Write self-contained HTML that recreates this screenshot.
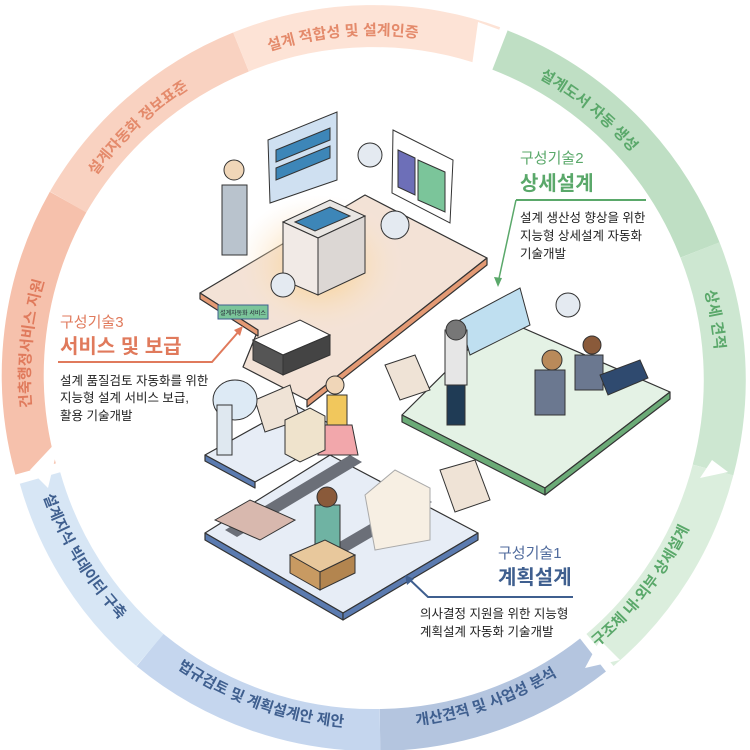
<!DOCTYPE html>
<html><head><meta charset="utf-8"><style>
html,body{margin:0;padding:0;background:#fff;}
svg{display:block;font-family:"Liberation Sans","Noto Sans CJK KR",sans-serif;}
</style></head><body>
<svg width="750" height="750" viewBox="0 0 750 750" xmlns="http://www.w3.org/2000/svg">
<defs>
<path id="cw" d="M373,721 A343,343 0 1 1 373,35 A343,343 0 1 1 373,721"/>
<path id="ccw" d="M373,28 A350,350 0 1 0 373,728 A350,350 0 1 0 373,28"/>
<radialGradient id="glow" cx="0.5" cy="0.5" r="0.5"><stop offset="0" stop-color="#f9c978"/><stop offset="1" stop-color="#fbe9d8" stop-opacity="0"/></radialGradient>
</defs>
<g fill="none" stroke-width="42">
<path d="M35.6,469 A352,352 0 0 1 68.1,202" stroke="#f6c1ac"/>
<path d="M68.1,202 A352,352 0 0 1 241,52" stroke="#f9d2c1"/>
<path d="M241,52 A352,352 0 0 1 493,47" stroke="#fde3d6"/>
<path d="M500,50 A352,352 0 0 1 700,250" stroke="#bfdfc4"/>
<path d="M700,250 A352,352 0 0 1 713,470" stroke="#cde7d1"/>
<path d="M713,470 A352,352 0 0 1 600,650" stroke="#dbeedd"/>
<path d="M593,655 A352,352 0 0 1 380,730" stroke="#b4c5df"/>
<path d="M380,730 A352,352 0 0 1 150,650" stroke="#c5d6ee"/>
<path d="M150,650 A352,352 0 0 1 40,478" stroke="#d7e6f5"/>
</g>
<g fill="#fff">
<polygon points="478,22 500,30 486,70 508,78 470,80"/>
<polygon points="712,460 728,472 700,478"/>
<polygon points="600,640 620,660 585,668"/>
<polygon points="30,470 60,438 48,488"/>
</g>
<g font-size="15" font-weight="bold">
<text fill="#e48a6b"><textPath href="#cw" startOffset="48.6%" text-anchor="middle">설계 적합성 및 설계인증</textPath></text>
<text fill="#e48a6b"><textPath href="#cw" startOffset="38%" text-anchor="middle">설계자동화 정보표준</textPath></text>
<text fill="#e07a5c"><textPath href="#cw" startOffset="26.6%" text-anchor="middle">건축행정서비스 지원</textPath></text>
<text fill="#5aa86a"><textPath href="#cw" startOffset="60.8%" text-anchor="middle">설계도서 자동 생성</textPath></text>
<text fill="#5aa86a"><textPath href="#cw" startOffset="72.3%" text-anchor="middle">상세 견적</textPath></text>
<text fill="#5aa86a"><textPath href="#ccw" startOffset="64.5%" text-anchor="middle">구조체 내·외부 상세설계</textPath></text>
<text fill="#3f5f8f"><textPath href="#ccw" startOffset="55.4%" text-anchor="middle">개산견적 및 사업성 분석</textPath></text>
<text fill="#3f5f8f"><textPath href="#ccw" startOffset="44.6%" text-anchor="middle">법규검토 및 계획설계안 제안</textPath></text>
<text fill="#3f5f8f"><textPath href="#ccw" startOffset="33.8%" text-anchor="middle">설계지식 빅데이터 구축</textPath></text>
</g>

<g stroke="#333" stroke-width="1.2" stroke-linejoin="round">
<polygon points="205,533 330,455 478,533 343,613" fill="#e7edf6"/>
<polygon points="205,533 343,613 343,620 205,540" fill="#5b7bb0"/>
<polygon points="343,613 478,533 478,540 343,620" fill="#5b7bb0"/>
<polygon points="205,455 295,405 345,432 255,482" fill="#e7edf6"/>
<polygon points="205,455 255,482 255,488 205,461" fill="#5b7bb0"/>
<polygon points="402,415 500,318 670,392 545,488" fill="#e4f2e5"/>
<polygon points="402,415 545,488 545,495 402,422" fill="#6bab77"/>
<polygon points="545,488 670,392 670,399 545,495" fill="#6bab77"/>
<polygon points="200,293 365,195 487,258 307,400 243,367 258,330" fill="#f3e2d6"/>
<polygon points="200,293 258,330 258,336 200,299" fill="#e49a74"/>
<polygon points="307,400 487,258 487,265 307,407" fill="#e49a74"/>
</g>
<ellipse cx="320" cy="265" rx="85" ry="70" fill="url(#glow)"/>
<polygon points="225,530 350,455 362,462 237,537" fill="#6b6f78"/>
<polygon points="300,565 420,495 432,502 312,572" fill="#6b6f78"/>
<g stroke="#333" stroke-width="1">
<polygon points="268,140 337,112 337,180 270,203" fill="#cfe0f1"/>
<polygon points="276,150 330,128 330,140 276,162" fill="#3d86b8"/>
<polygon points="276,168 330,146 330,158 276,180" fill="#3d86b8"/>
<polygon points="393,130 453,160 450,223 392,193" fill="#fff"/>
<polygon points="418,160 445,172 445,212 418,200" fill="#7bc59a"/>
<polygon points="398,150 415,158 415,195 398,187" fill="#6d6fb8"/>
<polygon points="283,222 330,200 365,216 318,238" fill="#e9e6e3"/>
<polygon points="283,222 318,238 318,295 283,280" fill="#f1eae6"/>
<polygon points="318,238 365,216 365,273 318,295" fill="#dcd7d4"/>
<polygon points="295,222 330,207 350,216 315,231" fill="#3d86b8"/>
<rect x="222" y="185" width="25" height="70" fill="#b9c3cd"/>
<circle cx="234" cy="170" r="10" fill="#f0d6b8"/>
<circle cx="370" cy="155" r="12" fill="#e4eaf1"/>
<circle cx="395" cy="225" r="14" fill="#e4eaf1"/>
<circle cx="283" cy="285" r="12" fill="#e4eaf1"/>
<polygon points="253,340 300,320 330,335 283,355" fill="#fff"/>
<polygon points="253,340 283,355 283,375 253,360" fill="#555"/>
<polygon points="283,355 330,335 330,355 283,375" fill="#444"/>
<polygon points="460,320 520,288 530,325 470,355" fill="#bfdff0"/>
<rect x="445" y="330" width="22" height="55" fill="#e6e6e6"/>
<rect x="447" y="385" width="18" height="40" fill="#1f3b55"/>
<circle cx="456" cy="330" r="10" fill="#777"/>
<rect x="535" y="370" width="30" height="45" fill="#6b7890"/>
<circle cx="552" cy="360" r="10" fill="#b98a5a"/>
<rect x="575" y="355" width="28" height="35" fill="#6b7890"/>
<circle cx="592" cy="345" r="9" fill="#8a5a3a"/>
<polygon points="600,375 640,360 648,378 608,395" fill="#2f4a6f"/>
<circle cx="568" cy="305" r="12" fill="#e4eaf1"/>
<polygon points="385,365 415,355 430,390 400,400" fill="#efe3d6"/>
<polygon points="255,400 290,385 300,420 265,432" fill="#efe3d6"/>
<polygon points="440,470 475,460 490,500 455,512" fill="#efe3d6"/>
<rect x="327" y="395" width="20" height="30" fill="#f1c75c"/>
<polygon points="322,425 352,425 358,455 318,455" fill="#f2a7ab"/>
<circle cx="335" cy="385" r="9" fill="#f0d6b8"/>
<ellipse cx="235" cy="400" rx="22" ry="20" fill="#ddeaf5"/>
<rect x="217" y="405" width="15" height="50" fill="#dfe8f0"/>
<polygon points="285,420 310,408 325,416 325,450 300,462 285,454" fill="#efe3cc"/>
<polygon points="215,520 250,500 295,520 260,540" fill="#d8b8ae"/>
<polygon points="365,495 395,470 430,488 430,540 375,550" fill="#f7efe3" stroke="#aaa"/>
<rect x="315" y="505" width="25" height="45" fill="#6fb3a3"/>
<circle cx="327" cy="497" r="10" fill="#8a5a3a"/>
<polygon points="290,555 325,540 355,555 320,572" fill="#e8c89c"/>
<polygon points="290,555 320,572 320,590 290,573" fill="#c89a62"/>
<polygon points="320,572 355,555 355,573 320,590" fill="#b3854f"/>
</g>
<rect x="218" y="305" width="50" height="14" fill="#7bc59a" stroke="#3f5f8f"/>
<text x="243" y="315" font-size="6" text-anchor="middle" fill="#223">설계자동화 서비스</text>

<g>
<text x="520" y="163" font-size="15" fill="#5aa86a">구성기술2</text>
<text x="520" y="190" font-size="20" font-weight="bold" fill="#5aa86a">상세설계</text>
<line x1="516" y1="200" x2="646" y2="200" stroke="#5aa86a" stroke-width="2"/>
<polyline points="516,200 498,283" fill="none" stroke="#5aa86a" stroke-width="1.5"/>
<polygon points="498,287 494,277 502,278" fill="#5aa86a"/>
<g font-size="12.5" fill="#222">
<text x="520" y="222">설계 생산성 향상을 위한</text>
<text x="520" y="240">지능형 상세설계 자동화</text>
<text x="520" y="258">기술개발</text>
</g>
<text x="60" y="327" font-size="15" fill="#e07a5c">구성기술3</text>
<text x="60" y="353" font-size="20" font-weight="bold" fill="#e07a5c">서비스 및 보급</text>
<polyline points="58,362 212,362 240,330" fill="none" stroke="#e07a5c" stroke-width="2"/>
<polygon points="243,326 234,330 240,336" fill="#e07a5c"/>
<g font-size="12.5" fill="#222">
<text x="60" y="385">설계 품질검토 자동화를 위한</text>
<text x="60" y="402">지능형 설계 서비스 보급,</text>
<text x="60" y="420">활용 기술개발</text>
</g>
<text x="498" y="558" font-size="15" fill="#4f6a9c">구성기술1</text>
<text x="498" y="584" font-size="20" font-weight="bold" fill="#3f5f8f">계획설계</text>
<polyline points="573,597 428,597 408,578" fill="none" stroke="#3f5f8f" stroke-width="2"/>
<polygon points="405,575 407,585 414,579" fill="#3f5f8f"/>
<g font-size="12.5" fill="#222">
<text x="420" y="618">의사결정 지원을 위한 지능형</text>
<text x="420" y="636">계획설계 자동화 기술개발</text>
</g>
</g>
</svg>
</body></html>
